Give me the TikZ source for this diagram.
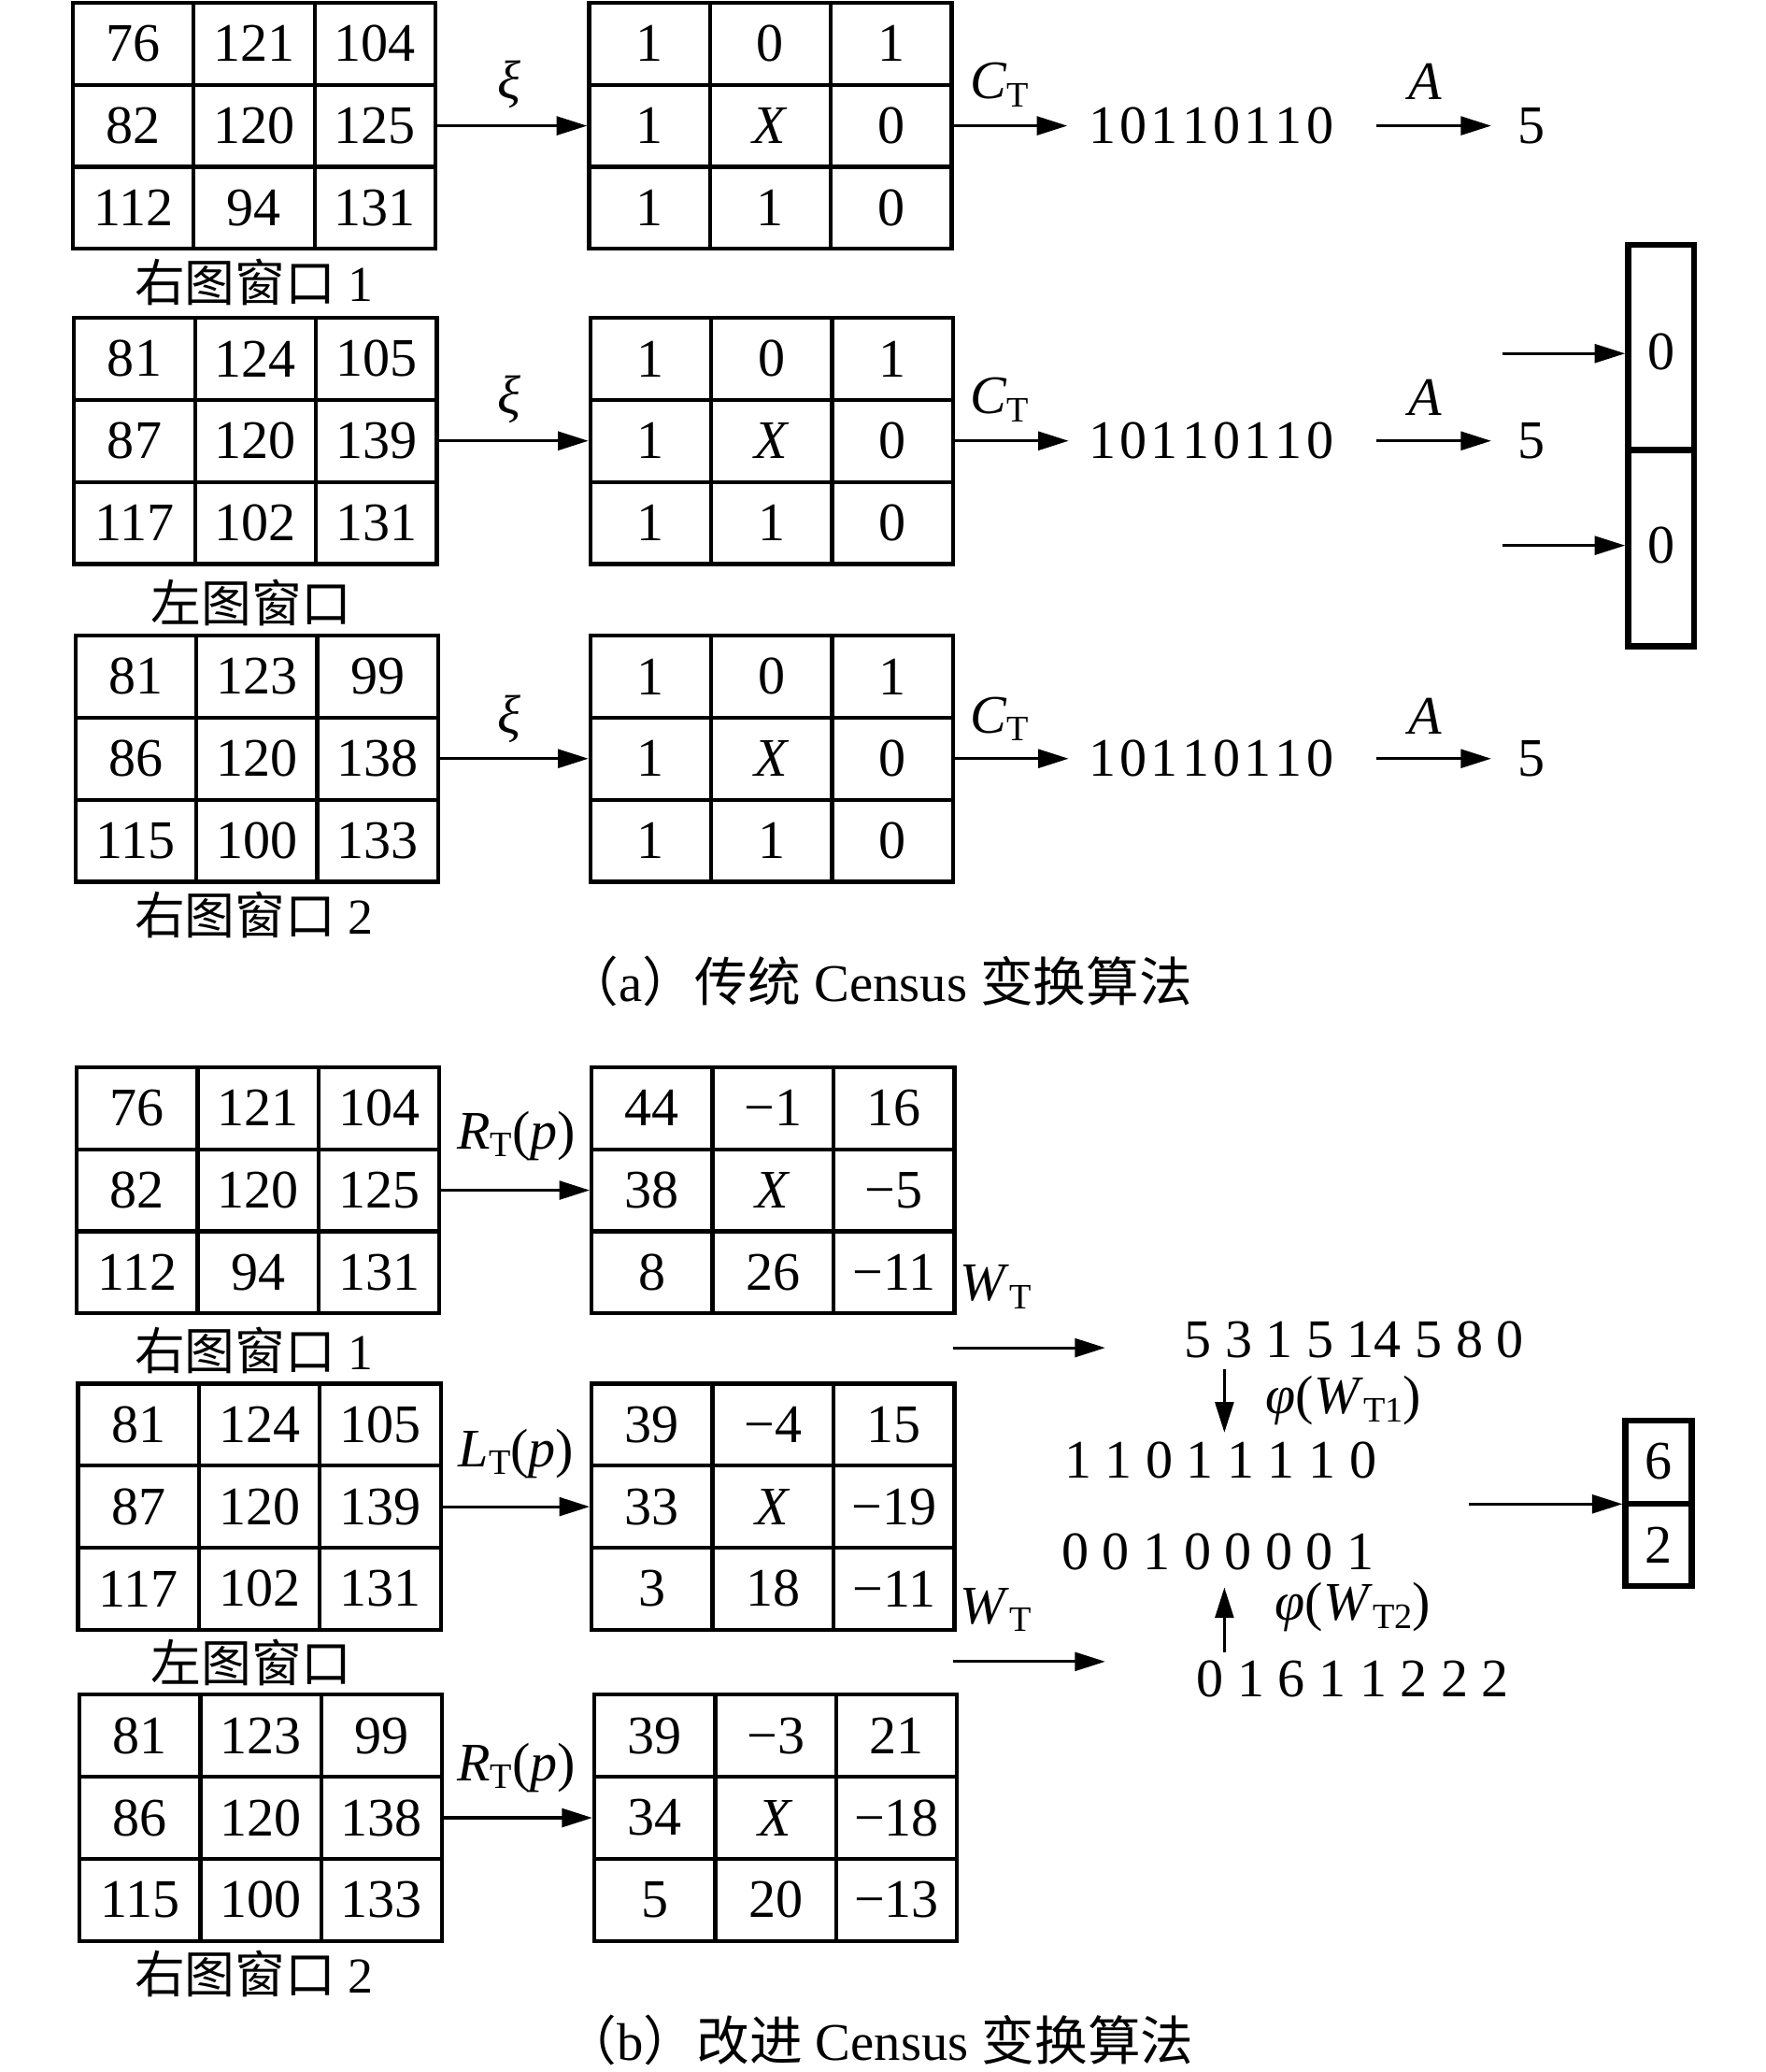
\documentclass[tikz,border=0pt]{standalone}
\usepackage{fontspec}
\setmainfont{Liberation Serif}
\newfontfamily\cjk{Noto Sans CJK SC}
\usetikzlibrary{arrows.meta}
\newcommand\sT[1]{\raisebox{-0.32ex}{\fontsize{27}{27}\selectfont #1}}
\newcommand\cgrid[4]{%
  \node[gridbox] (#1) at ({#2+137},{#3+93}) {};
  \draw[gline] ({#2+91.33},{#3}) -- ++(0,186) ({#2+182.67},{#3}) -- ++(0,186)
    ({#2},{#3+62}) -- ++(274,0) ({#2},{#3+124}) -- ++(274,0);
  \foreach \v [count=\ii from 0] in {#4} {%
    \pgfmathtruncatemacro\gr{\ii/3}\pgfmathtruncatemacro\gc{\ii-3*\gr}%
    \node[cell] (#1-\ii) at ({#2+45.67+91.33*\gc},{#3+31+62*\gr}) {\v};}%
}
\tikzset{
  every node/.style={font=\fontsize{41}{48}\selectfont, inner sep=0pt},
  gridbox/.style={draw, line width=3pt, minimum width=274pt, minimum height=186pt, inner sep=0pt},
  gline/.style={line width=3pt},
  cell/.style={inner sep=0pt},
  lab/.style={font=\fontsize{38}{42}\selectfont},
  captext/.style={font=\fontsize{40}{44}\selectfont},
  arr/.style={line width=2.2pt, -{Triangle[length=23pt,width=14pt]}},
  rbox/.style={draw, line width=4.5pt, inner sep=0pt},
}
\begin{document}
\begin{tikzpicture}[x=1pt,y=-1pt]
\useasboundingbox (0,0) rectangle (1334,1565);
% ---------------- (a) ----------------
\cgrid{L1}{55}{2}{76,121,104,82,120,125,112,94,131}
\node[lab] (n1) at (192,213) {{\cjk 右图窗口}\ 1};
\cgrid{T1}{445}{2}{1,0,1,1,\textit{X},0,1,1,0}
\draw[arr] (L1) -- (T1);
\node (xi1) at (385,64) {\textit{ξ}};
\node (bin1) at (915,95) {1\kern3pt0\kern3pt1\kern3pt1\kern3pt0\kern3pt1\kern3pt1\kern3pt0};
\node (five1) at (1157,95) {5};
\draw[arr, shorten >=16pt] (T1) -- (bin1);
\node (ct1) at (755,64) {\textit{C}\sT{T}};
\draw[arr, shorten <=32pt, shorten >=20pt] (bin1) -- (five1);
\node (a1) at (1077,62) {\textit{A}};

\cgrid{L2}{56}{240}{81,124,105,87,120,139,117,102,131}
\node[lab] (n2) at (190,455) {\cjk 左图窗口};
\cgrid{T2}{446}{240}{1,0,1,1,\textit{X},0,1,1,0}
\draw[arr] (L2) -- (T2);
\node (xi2) at (385,302) {\textit{ξ}};
\node (bin2) at (915,333) {1\kern3pt0\kern3pt1\kern3pt1\kern3pt0\kern3pt1\kern3pt1\kern3pt0};
\node (five2) at (1157,333) {5};
\draw[arr, shorten >=15pt] (T2) -- (bin2);
\node (ct2) at (755,302) {\textit{C}\sT{T}};
\draw[arr, shorten <=32pt, shorten >=20pt] (bin2) -- (five2);
\node (a2) at (1077,300) {\textit{A}};

\cgrid{L3}{57}{480}{81,123,99,86,120,138,115,100,133}
\node[lab] (n3) at (192,691) {{\cjk 右图窗口}\ 2};
\cgrid{T3}{446}{480}{1,0,1,1,\textit{X},0,1,1,0}
\draw[arr] (L3) -- (T3);
\node (xi3) at (385,543) {\textit{ξ}};
\node (bin3) at (915,573) {1\kern3pt0\kern3pt1\kern3pt1\kern3pt0\kern3pt1\kern3pt1\kern3pt0};
\node (five3) at (1157,573) {5};
\draw[arr, shorten >=15pt] (T3) -- (bin3);
\node (ct3) at (755,543) {\textit{C}\sT{T}};
\draw[arr, shorten <=32pt, shorten >=20pt] (bin3) -- (five3);
\node (a3) at (1077,541) {\textit{A}};

% right box (a)
\node[rbox, minimum width=50pt, minimum height=303pt] (RA) at (1255,336.5) {};
\draw[line width=4.5pt] (RA.west |- 0,340) -- (RA.east |- 0,340);
\node (z1) at (1255,266) {0};
\node (z2) at (1255,412) {0};
\coordinate (ra1) at (1135,267);
\coordinate (ra2) at (1135,412);
\draw[arr] (ra1) -- (ra1 -| RA.west);
\draw[arr] (ra2) -- (ra2 -| RA.west);

\node[captext] (capa) at (664,741) {{\cjk （}a{\cjk ）传统}\ Census\ {\cjk 变换算法}};

% ---------------- (b) ----------------
\cgrid{L4}{58}{806}{76,121,104,82,120,125,112,94,131}
\node[lab] (n4) at (192,1020) {{\cjk 右图窗口}\ 1};
\cgrid{T4}{447}{806}{44,−1,16,38,\textit{X},−5,8,26,−11}
\draw[arr] (L4) -- (T4);
\node (r4) at (390,858) {\textit{R}\sT{T}(\textit{p})};

\cgrid{L5}{59}{1045}{81,124,105,87,120,139,117,102,131}
\node[lab] (n5) at (190,1256) {\cjk 左图窗口};
\cgrid{T5}{447}{1045}{39,−4,15,33,\textit{X},−19,3,18,−11}
\draw[arr] (L5) -- (T5);
\node (r5) at (390,1098) {\textit{L}\sT{T}(\textit{p})};

\cgrid{L6}{60}{1280}{81,123,99,86,120,138,115,100,133}
\node[lab] (n6) at (192,1491) {{\cjk 右图窗口}\ 2};
\cgrid{T6}{449}{1280}{39,−3,21,34,\textit{X},−18,5,20,−13}
\draw[arr] (L6) -- (T6);
\node (r6) at (390,1335) {\textit{R}\sT{T}(\textit{p})};

% W_T branches
\node (wt1) at (752,972) {\textit{W}\sT{T}};
\node (wt2) at (752,1216) {\textit{W}\sT{T}};
\coordinate (w1s) at (720,1018);
\coordinate (w1e) at (835,1018);
\coordinate (w2s) at (720,1255);
\coordinate (w2e) at (835,1255);
\draw[arr] (w1s) -- (w1e);
\draw[arr] (w2s) -- (w2e);

\node (seq1) at (1023,1012) {5 3 1 5 14 5 8 0};
\node (bits1) at (922,1103) {1 1 0 1 1 1 1 0};
\node (bits2) at (920,1172) {0 0 1 0 0 0 0 1};
\node (seq2) at (1022,1268) {0 1 6 1 1 2 2 2};
\node (phi1) at (1015,1058) {\textit{φ}(\textit{W}\sT{T1})};
\node (phi2) at (1022,1214) {\textit{φ}(\textit{W}\sT{T2})};
\coordinate (d1s) at (925,1034);
\coordinate (d1e) at (925,1082);
\coordinate (u1s) at (925,1248);
\coordinate (u1e) at (925,1199);
\draw[arr] (d1s) -- (d1e);
\draw[arr] (u1s) -- (u1e);

% right box (b)
\node[rbox, minimum width=50pt, minimum height=125pt] (RB) at (1253,1135.5) {};
\draw[line width=4.5pt] (RB.west |- 0,1136) -- (RB.east |- 0,1136);
\node (six) at (1253,1104) {6};
\node (two) at (1253,1167) {2};
\coordinate (rb1) at (1110,1136);
\draw[arr] (rb1) -- (rb1 -| RB.west);

\node[captext] (capb) at (664,1541) {{\cjk （}b{\cjk ）改进}\ Census\ {\cjk 变换算法}};
\end{tikzpicture}
\end{document}
